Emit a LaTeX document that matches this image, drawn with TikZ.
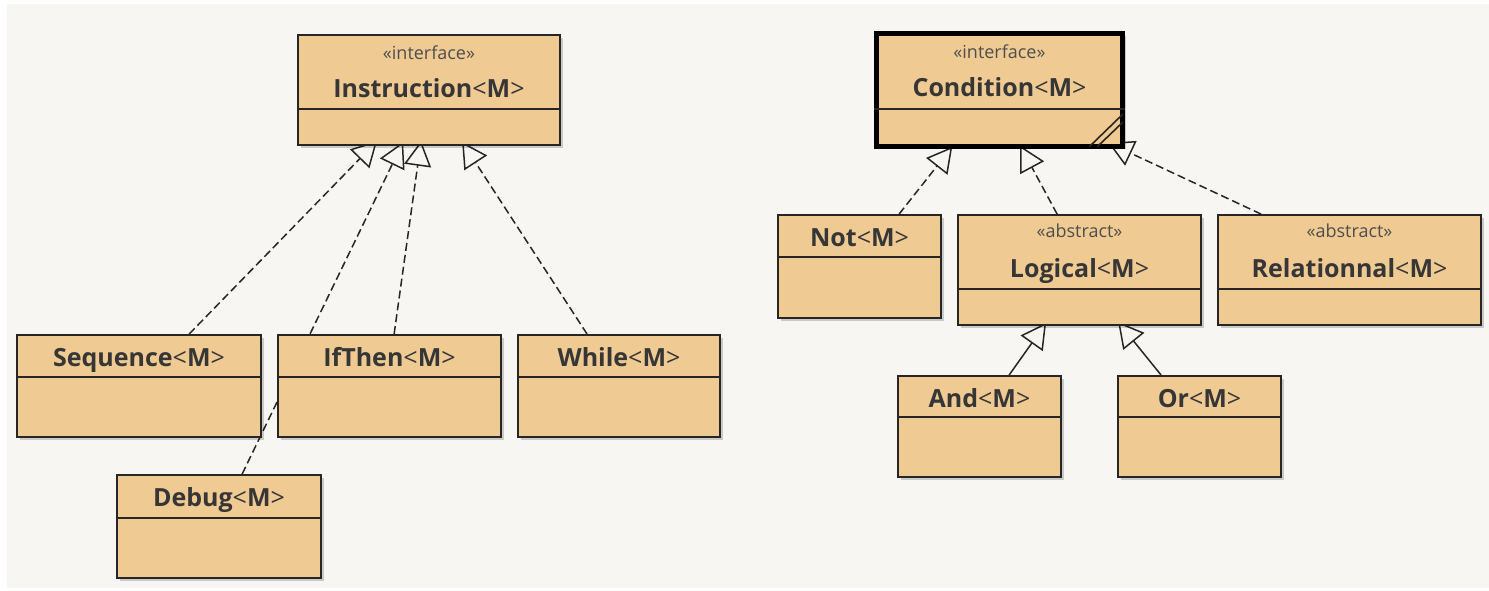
\documentclass[tikz,border=0pt]{standalone}
\usepackage{fontspec}
\setmainfont{Open Sans}
\usetikzlibrary{arrows.meta,fit,calc}

\definecolor{panelc}{HTML}{F7F6F2}
\definecolor{boxc}{HTML}{EFCA93}
\definecolor{inkc}{HTML}{363636}
\definecolor{stereoc}{HTML}{4E4E4E}

\pgfdeclarelayer{back}
\pgfdeclarelayer{wires}
\pgfsetlayers{back,wires,main}

\tikzset{
  cls/.style={draw=black!85, fill=boxc, line width=1.8pt, inner sep=0pt, rectangle},
  heavycls/.style={cls, draw=black, line width=5.5pt},
  boxshadow/.style={fill=black, opacity=0.18},
  divider/.style={draw=black!85, line width=1.6pt},
  clsname/.style={anchor=base, inner sep=0pt, text=inkc,
    font=\fontsize{25}{28}\selectfont\bfseries},
  stereo/.style={anchor=base, inner sep=0pt, text=stereoc,
    font=\fontsize{18}{20}\selectfont},
  realize/.style={draw=black!85, line width=1.5pt, dash pattern=on 8pt off 4pt,
    -{Triangle[open, length=25pt, width=27pt]}},
  extend/.style={draw=black!85, line width=1.5pt,
    -{Triangle[open, length=25pt, width=27pt]}},
  grip/.style={draw=black!85, line width=1.6pt},
}

% class box: [style] name, x1, y1, x2, y2, divider y
\newcommand\classbox[7][cls]{%
  \fill[boxshadow] (#3+3,#4+3) rectangle (#5+3,#6+3);
  \node[#1, fit={(#3,#4) (#5,#6)}] (#2) {};
  \draw[divider] (#2.west |- 0,#7) -- (#2.east |- 0,#7);
}
\newcommand\gen[1]{#1{\mdseries<}M{\mdseries>}}

\begin{document}
\begin{tikzpicture}[x=1pt, y=-1pt]
  \useasboundingbox (0,0) rectangle (1489,591);
  \begin{pgfonlayer}{back}
    \fill[white] (0,0) rectangle (1489,591);
    \fill[panelc] (7,4) rectangle (1489,588);
  \end{pgfonlayer}

  % ---- instruction hierarchy ----
  \classbox{instr}{298}{35}{560}{145}{109}
  \node[stereo] (instr-s) at (instr.north |- 0,60) {«interface»};
  \node[clsname] (instr-n) at (instr.north |- 0,98) {\gen{Instruction}};

  \classbox{seq}{17}{335}{261}{437}{377}
  \node[clsname] (seq-n) at (seq.north |- 0,366) {\gen{Sequence}};

  \classbox{ifthen}{278}{335}{501}{437}{377}
  \node[clsname] (ifthen-n) at (ifthen.north |- 0,366) {\gen{IfThen}};

  \classbox{while}{518}{335}{720}{437}{377}
  \node[clsname] (while-n) at (while.north |- 0,366) {\gen{While}};

  \classbox{debug}{117}{475}{321}{578}{518}
  \node[clsname] (debug-n) at (debug.north |- 0,506) {\gen{Debug}};

  % ---- condition hierarchy ----
  \classbox[heavycls]{cond}{876.5}{33.5}{1122.5}{146.5}{109}
  \node[stereo] (cond-s) at (cond.north |- 0,59) {«interface»};
  \node[clsname] (cond-n) at (cond.north |- 0,97) {\gen{Condition}};
  \draw[grip] ($(cond.south east)+(-36,-2.5)$) -- ($(cond.south east)+(-2.5,-35)$);
  \draw[grip] ($(cond.south east)+(-28,-2.5)$) -- ($(cond.south east)+(-2.5,-27)$);

  \classbox{not}{778}{215}{941}{318}{257}
  \node[clsname] (not-n) at (not.north |- 0,246) {\gen{Not}};

  \classbox{logical}{958}{215}{1201}{325}{289}
  \node[stereo] (logical-s) at (logical.north |- 0,237) {«abstract»};
  \node[clsname] (logical-n) at (logical.north |- 0,277) {\gen{Logical}};

  \classbox{rel}{1218}{215}{1481}{325}{289}
  \node[stereo] (rel-s) at (rel.north |- 0,237) {«abstract»};
  \node[clsname] (rel-n) at (rel.north |- 0,277) {\gen{Relationnal}};

  \classbox{and}{898}{376}{1061}{477}{417}
  \node[clsname] (and-n) at (and.north |- 0,407) {\gen{And}};

  \classbox{or}{1118}{376}{1281}{477}{417}
  \node[clsname] (or-n) at (or.north |- 0,407) {\gen{Or}};

  % ---- connectors, drawn beneath the boxes ----
  \begin{pgfonlayer}{wires}
    \draw[realize] ($(seq.north west)+(173,0)$) -- ($(instr.south west)+(80,-5)$);
    \draw[realize] ($(debug.north west)+(126,0)$) -- ($(instr.south west)+(106,-4)$);
    \draw[realize] ($(ifthen.north west)+(117,0)$) -- ($(instr.south west)+(124,-5)$);
    \draw[realize] ($(while.north west)+(70,0)$) -- ($(instr.south west)+(165,-4)$);

    \draw[realize] ($(not.north west)+(122,0)$) -- ($(cond.south west)+(78.5,-2.5)$);
    \draw[realize] ($(logical.north west)+(100,0)$) -- ($(cond.south west)+(146.5,-3.5)$);
    \draw[realize] ($(rel.north west)+(44,0)$) -- ($(cond.south west)+(234.5,-6.5)$);

    \draw[extend] ($(and.north west)+(112,0)$) -- ($(logical.south west)+(89,-3)$);
    \draw[extend] ($(or.north west)+(44,0)$) -- ($(logical.south west)+(161,-4)$);
  \end{pgfonlayer}
\end{tikzpicture}
\end{document}
